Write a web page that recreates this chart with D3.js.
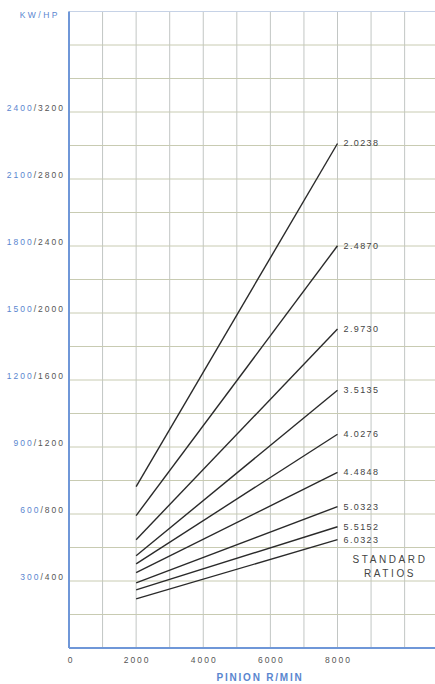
<!DOCTYPE html>
<html>
<head>
<meta charset="utf-8">
<script src="https://cdn.jsdelivr.net/npm/d3@7"></script>
<style>
html,body{margin:0;padding:0;background:#fff;}
svg{display:block;}
text{font-family:"Liberation Sans",Arial,sans-serif;}
</style>
</head>
<body>
<svg id="chart" width="435" height="684"></svg>
<script>
// ---- data ----
const ratios = ["2.0238","2.4870","2.9730","3.5135","4.0276","4.4848","5.0323","5.5152","6.0323"];
const kwAt2000 = [723, 593, 485, 413, 377, 337, 292, 260, 220];
const kwAt8000 = [2259, 1801, 1428, 1154, 957, 786, 633, 543, 485];
const speeds = [2000, 8000];
const yTickKW = [300, 600, 900, 1200, 1500, 1800, 2100, 2400];
const yTickHP = [400, 800, 1200, 1600, 2000, 2400, 2800, 3200];
const xTicks = [0, 2000, 4000, 6000, 8000];

const svg = d3.select("#chart");
const W = 435, H = 684;
const x = d3.scaleLinear().domain([0, 8000]).range([69, 337.5]);
const y = d3.scaleLinear().domain([0, 2400]).range([648, 112]);
const yTop = 2850;

const blue = "#6f97d8";
const labBlue = "#5a86cf";

// grid
const grid = svg.append("g");
d3.range(1000, 11001, 1000).forEach(v => {
  grid.append("line").attr("x1", x(v)).attr("x2", x(v))
    .attr("y1", y(yTop)).attr("y2", y(0))
    .attr("stroke", "#c2c6c4").attr("stroke-width", 1);
});
d3.range(150, yTop, 150).forEach(v => {
  grid.append("line").attr("x1", x(0)).attr("x2", W)
    .attr("y1", y(v)).attr("y2", y(v))
    .attr("stroke", "#c8cbb2").attr("stroke-width", 1);
});
// top border
svg.append("line").attr("x1", x(0)).attr("x2", W).attr("y1", y(yTop)).attr("y2", y(yTop))
  .attr("stroke", "#c6d2e6").attr("stroke-width", 1.2);
// axes
svg.append("line").attr("x1", x(0)).attr("x2", x(0)).attr("y1", y(yTop)).attr("y2", y(0))
  .attr("stroke", blue).attr("stroke-width", 2);
svg.append("line").attr("x1", x(0)).attr("x2", W).attr("y1", y(0)).attr("y2", y(0))
  .attr("stroke", blue).attr("stroke-width", 2);

// y tick labels
const yl = svg.append("g");
yTickKW.forEach((kw, i) => {
  const t = yl.append("text").attr("x", 65).attr("y", y(kw) - 1)
    .attr("text-anchor", "end").attr("font-size", 8.5).attr("letter-spacing", 2);
  t.append("tspan").attr("fill", labBlue).text(kw);
  t.append("tspan").attr("fill", "#555").text("/" + yTickHP[i]);
});
svg.append("text").attr("x", 60).attr("y", 18).attr("text-anchor", "end")
  .attr("font-size", 8.5).attr("letter-spacing", 2.5).attr("fill", labBlue).text("KW/HP");

// x tick labels
xTicks.forEach(v => {
  svg.append("text").attr("x", x(v) + (v === 0 ? 2 : 1)).attr("y", 663)
    .attr("text-anchor", "middle").attr("font-size", 8.5).attr("letter-spacing", 2)
    .attr("fill", "#555").text(v);
});
svg.append("text").attr("x", 260).attr("y", 681).attr("text-anchor", "middle")
  .attr("font-size", 10).attr("font-weight", "bold").attr("letter-spacing", 1.8)
  .attr("fill", labBlue).text("PINION R/MIN");

// lines
const line = d3.line().x(d => x(d[0])).y(d => y(d[1]));
ratios.forEach((r, i) => {
  const pts = [[speeds[0], kwAt2000[i]], [speeds[1], kwAt8000[i]]];
  svg.append("path").attr("d", line(pts)).attr("fill", "none")
    .attr("stroke", "#2a2a2a").attr("stroke-width", 1.4);
  svg.append("text").attr("x", x(8000) + 6).attr("y", y(kwAt8000[i]) + 3)
    .attr("font-size", 9).attr("fill", "#444").attr("letter-spacing", 1.4).text(r);
});

// STANDARD RATIOS
svg.append("text").attr("x", 390).attr("y", 563).attr("text-anchor", "middle")
  .attr("font-size", 10).attr("letter-spacing", 2.6).attr("fill", "#444").text("STANDARD");
svg.append("text").attr("x", 390).attr("y", 577).attr("text-anchor", "middle")
  .attr("font-size", 10).attr("letter-spacing", 2.6).attr("fill", "#444").text("RATIOS");
</script>
</body>
</html>
